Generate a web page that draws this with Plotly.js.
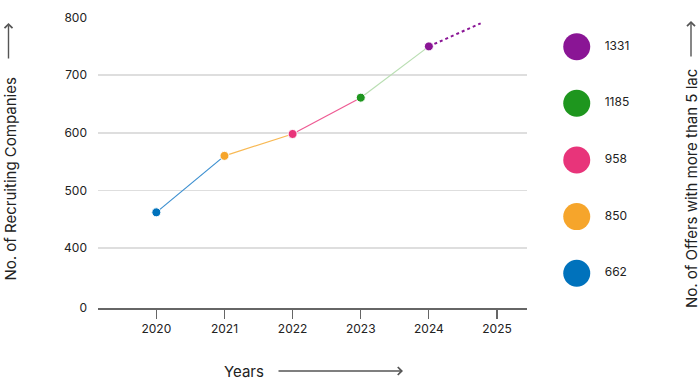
<!DOCTYPE html>
<html>
<head>
<meta charset="utf-8">
<script src="https://cdn.plot.ly/plotly-3.0.1.min.js"></script>
<style>html,body{margin:0;padding:0;background:#fff;}#chart{width:700px;height:380px;}</style>
</head>
<body>
<div id="chart"></div>
<script>
// ---- data ----
const years = [2020, 2021, 2022, 2023, 2024];
const companies = [462, 560, 598, 661, 750];
const offers = [662, 850, 958, 1185, 1331];
const projYears = [2024, 2024.76];
const projValues = [750, 790];
const yTickVals = [296, 400, 500, 600, 700, 800];
const yTickText = ['0', '400', '500', '600', '700', '800'];
const xTickVals = [2020, 2021, 2022, 2023, 2024, 2025];

// ---- styles ----
const pointColors = ['#0072bc', '#f6a52b', '#e8347a', '#1e961e', '#8a1595'];
const segColors = ['#3b8fd0', '#f8b954', '#ee5a93', '#b8deb1'];
const FONT = 'Inter, "Noto Sans", sans-serif';

const traces = [];
for (let i = 0; i < years.length - 1; i++) {
  traces.push({
    x: [years[i], years[i + 1]], y: [companies[i], companies[i + 1]],
    mode: 'lines', line: {color: segColors[i], width: 1.2},
    hoverinfo: 'skip', showlegend: false
  });
}
traces.push({
  x: projYears, y: projValues, mode: 'lines',
  line: {color: pointColors[4], width: 2, dash: 'dot'},
  hoverinfo: 'skip', showlegend: false
});
traces.push({
  x: years, y: companies, mode: 'markers',
  marker: {color: pointColors, size: 9, line: {color: '#fff', width: 1}},
  showlegend: false
});
// right-hand "legend" column: offers per year
traces.push({
  x: offers.map(() => 0), y: years, xaxis: 'x2', yaxis: 'y2',
  mode: 'markers+text',
  text: offers.map(v => '\u00a0\u00a0\u00a0' + v),
  textposition: 'middle right',
  textfont: {family: FONT, size: 12, color: '#222'},
  marker: {color: pointColors, size: 27},
  showlegend: false, cliponaxis: false
});

const W = 602, H = 291; // paper size in px (after margins)
const px = v => (v - 98) / W;
const py = v => (308 - v) / H;
const arrowColor = '#555';

const layout = {
  width: 700, height: 380,
  margin: {l: 98, r: 0, t: 17, b: 72},
  paper_bgcolor: '#fff', plot_bgcolor: '#fff',
  font: {family: FONT, size: 12, color: '#222'},
  showlegend: false,
  xaxis: {
    domain: [0, 429 / W], range: [2019.144, 2025.44],
    tickvals: xTickVals, ticktext: xTickVals.map(String),
    showgrid: false, zeroline: false,
    showline: true, linecolor: '#666', linewidth: 1.5,
    ticks: 'outside', ticklen: 9, tickwidth: 1.2, tickcolor: '#666',
    tickfont: {family: FONT, size: 12, color: '#222'}
  },
  yaxis: {
    range: [296, 801], tickvals: yTickVals, ticktext: yTickText,
    showgrid: true, gridcolor: '#dedede', gridwidth: 1.5,
    zeroline: false, showline: false, ticks: '',
    ticklabelstandoff: 10,
    tickfont: {family: FONT, size: 12, color: '#222'}
  },
  xaxis2: {domain: [0.75, 1], range: [-0.181, 0.819], visible: false, anchor: 'y2'},
  yaxis2: {domain: [0, 1], range: [2019.386, 2024.524], visible: false, anchor: 'x2'},
  annotations: [
    {xref: 'paper', yref: 'paper', x: px(9.5), y: py(179), text: 'No. of Recruiting Companies',
     textangle: -90, showarrow: false, xanchor: 'center', yanchor: 'middle',
     font: {family: FONT, size: 15, color: '#222'}},
    {xref: 'paper', yref: 'paper', x: px(8.5), y: py(23), text: '', showarrow: true,
     ax: 0, ay: 37, arrowhead: 4, arrowsize: 1.1, arrowwidth: 1.4, arrowcolor: arrowColor, standoff: 0},
    {xref: 'paper', yref: 'paper', x: px(691), y: py(189), text: 'No. of Offers with more than 5 lac',
     textangle: -90, showarrow: false, xanchor: 'center', yanchor: 'middle',
     font: {family: FONT, size: 15, color: '#222'}},
    {xref: 'paper', yref: 'paper', x: px(691), y: py(21), text: '', showarrow: true,
     ax: 0, ay: 37, arrowhead: 4, arrowsize: 1.1, arrowwidth: 1.4, arrowcolor: arrowColor, standoff: 0},
    {xref: 'paper', yref: 'paper', x: px(244), y: py(371), text: 'Years',
     showarrow: false, xanchor: 'center', yanchor: 'middle',
     font: {family: FONT, size: 15, color: '#222'}},
    {xref: 'paper', yref: 'paper', x: px(403), y: py(371), text: '', showarrow: true,
     ax: -126, ay: 0, arrowhead: 4, arrowsize: 1.1, arrowwidth: 1.4, arrowcolor: arrowColor, standoff: 0}
  ]
};

Plotly.newPlot('chart', traces, layout, {displayModeBar: false, staticPlot: true});
</script>
</body>
</html>
